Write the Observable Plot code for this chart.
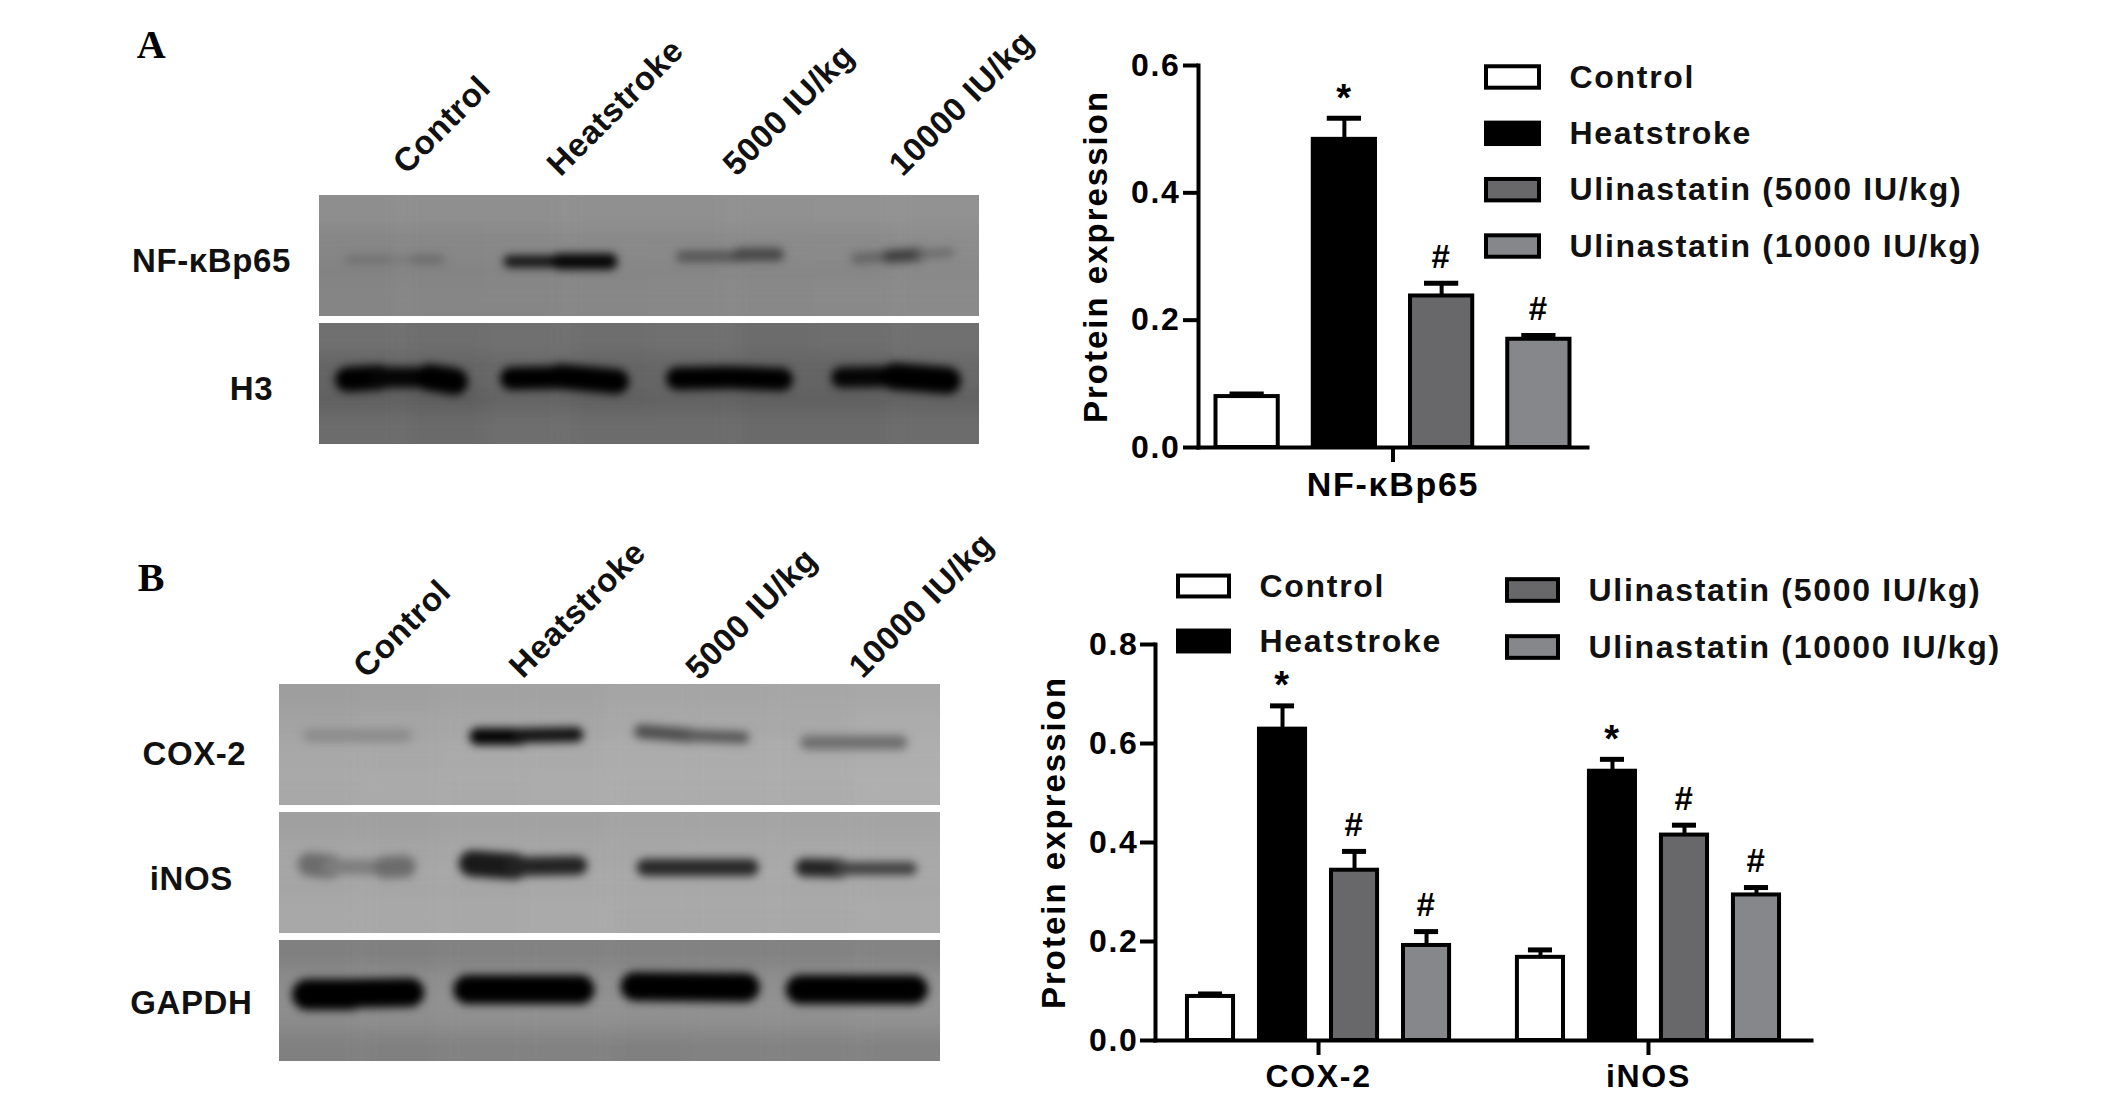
<!DOCTYPE html>
<html><head><meta charset="utf-8">
<script src="https://cdn.jsdelivr.net/npm/d3@7"></script>
<script src="https://cdn.jsdelivr.net/npm/@observablehq/plot@0.6"></script>
<style>
html,body{margin:0;padding:0;background:#fff;overflow:hidden}
#fig{position:relative;width:2126px;height:1103px;overflow:hidden}
#fig>div{position:absolute}
[aria-label="y-axis label"]{letter-spacing:2px;font-size:33px}
</style></head><body><div id="fig"></div>
<script>
// ---- bar chart values
const groups=["Control","Heatstroke","Ulinastatin (5000 IU/kg)","Ulinastatin (10000 IU/kg)"];
const groupFills=["#ffffff","#000000","#68686b","#85878a"];
const nfkbMean=[0.080,0.484,0.238,0.170];
const nfkbUpper=[0.084,0.517,0.258,0.176];
const nfkbSig=["","*","#","#"];
const coxMean=[0.089,0.629,0.344,0.192];
const coxUpper=[0.094,0.676,0.382,0.220];
const coxSig=["","*","#","#"];
const inosMean=[0.168,0.544,0.415,0.294];
const inosUpper=[0.183,0.568,0.435,0.309];
const inosSig=["","*","#","#"];
const yTicksA=[0,0.2,0.4,0.6];
const yTicksB=[0,0.2,0.4,0.6,0.8];
// ---- blot labels
const laneNames=["Control","Heatstroke","5000 IU/kg","10000 IU/kg"];
const laneXA=[87,241,417,583], laneYA=[-20,-18,-18,-18];
const laneXB=[87,243,419,582], laneYB=[-5,-5,-3,-5];
// ---- blot background greys, rows of columns
const greyNfkb=[[142,143,143,144,144,145,146,146],[134,135,136,137,137,138,138,140],[130,131,132,133,134,134,135,136],[133,134,134,135,136,136,137,138]];
const greyH3=[[112,110,112,110,112,108,110,112],[100,100,104,100,102,100,100,104],[96,94,100,96,98,96,96,98],[108,106,110,108,108,106,106,108]];
const greyCox=[[158,160,162,162,165,165,166,168],[163,165,166,166,168,168,168,172],[168,168,170,170,172,172,172,174],[168,170,170,172,172,172,172,175]];
const greyInos=[[160,160,162,162,164,164,164,164],[165,165,166,166,166,167,168,168],[165,166,166,168,168,168,168,168],[168,168,168,170,168,168,168,170]];
const greyGapdh=[[128,128,130,130,130,130,130,132],[140,142,142,142,142,142,142,145],[140,142,144,144,144,144,144,146],[128,128,130,130,128,130,130,130]];
// ---- blot band segments: x1,x2,y1,y2,thickness,grey
const bandsNfkb=[[30,70,64,64,8,112],[70,95,64,64,6,120],[95,120,64,64,9,108],[190,240,66,66,12,20],[240,290,66,66,16,5],[362,420,61,61,11,85],[420,458,59,59,13,70],[537,570,63,61,11,100],[570,600,61,59,13,62],[600,630,59,57,8,105]];
const bandsH3=[[28,60,56,54,25,0],[60,110,54,54,21,5],[110,135,54,58,27,0],[192,240,55,54,23,0],[240,297,53,58,25,0],[358,410,55,54,23,0],[410,462,54,56,23,0],[522,575,54,53,21,5],[575,628,53,57,27,0]];
const bandsCox=[[30,126,51,51,13,140],[198,240,52,52,17,5],[240,296,51,50,15,20],[361,410,47,51,14,78],[410,463,51,53,12,88],[527,620,58,58,14,110]];
const bandsInos=[[30,50,52,54,24,108],[50,105,54,55,15,125],[105,125,55,54,22,108],[192,235,51,54,26,25],[235,298,54,53,19,35],[365,470,55,55,17,40],[524,560,55,56,18,35],[560,630,56,56,13,65]];
const bandsGapdh=[[28,70,54,54,31,0],[70,130,53,52,29,0],[188,300,49,49,29,0],[355,465,46,47,29,0],[520,633,49,49,29,0]];

const FONT="Liberation Sans";
const fig=document.getElementById("fig");
function place(node,left,top){const d=document.createElement("div");d.style.left=left+"px";d.style.top=top+"px";d.appendChild(node);fig.appendChild(d);}
const base=(ls)=>({background:"transparent",overflow:"visible",fontFamily:FONT,letterSpacing:ls,maxWidth:"none"});
const g=v=>`rgb(${v},${v},${v})`;

function blotPanel({rows,width,height,margin,labelsX,labelsY,letter,letterX,letterY,gap,W,H}){
  const names=rows.map(r=>r.name);
  const cells=rows.flatMap(r=>r.grey.flatMap((line,i)=>line.map((v,j)=>{
    const cw=W/line.length,ch=H/r.grey.length;
    return {row:r.name,x1:j===0?-60:j*cw,x2:j===line.length-1?W+60:(j+1)*cw,y1:i===0?-60:i*ch,y2:i===r.grey.length-1?H+60:(i+1)*ch,fill:g(v)};
  })));
  const segs=rows.flatMap(r=>r.bands.map(([x1,x2,y1,y2,w,v])=>({row:r.name,x1,x2,y1,y2,w,stroke:g(v)})));
  const first=names[0];
  return Plot.plot({width,height,...margin,style:base("0.6px"),
    x:{domain:[0,W],axis:null},y:{domain:[H,0],axis:null},
    fy:{domain:names,padding:gap,axis:null,round:false},
    marks:[
      Plot.rect(cells,{x1:"x1",x2:"x2",y1:"y1",y2:"y2",fy:"row",fill:{value:"fill",scale:null},clip:"frame",imageFilter:"blur(9px)"}),
      Plot.link(segs,{x1:"x1",x2:"x2",y1:"y1",y2:"y2",fy:"row",stroke:{value:"stroke",scale:null},strokeWidth:"w",strokeLinecap:"round",clip:"frame",imageFilter:"blur(4.5px)"}),
      Plot.text(rows,{x:r=>r.labelX,y:r=>r.labelY,fy:"name",text:"name",fontSize:33,fontWeight:"bold",fill:"#111"}),
      Plot.text(laneNames.map((t,i)=>({t,x:labelsX[i],y:labelsY[i],row:first})),{x:"x",y:"y",fy:"row",text:"t",rotate:-45,textAnchor:"start",lineAnchor:"bottom",fontSize:33,fontWeight:"bold",fill:"#111"}),
      Plot.text([{t:letter,row:first}],{x:()=>letterX,y:()=>letterY,fy:"row",text:"t",fontFamily:"Liberation Serif",fontSize:40,fontWeight:"bold",fill:"#000"})
    ]});
}

place(blotPanel({width:1040,height:470,margin:{marginLeft:319,marginRight:61,marginTop:195,marginBottom:26},W:660,H:121,gap:0.055,
  rows:[{name:"NF-κBp65",grey:greyNfkb,bands:bandsNfkb,labelX:-108,labelY:66},{name:"H3",grey:greyH3,bands:bandsH3,labelX:-68,labelY:66}],
  labelsX:laneXA,labelsY:laneYA,letter:"A",letterX:-168,letterY:-150}),0,0);
place(blotPanel({width:1000,height:600,margin:{marginLeft:279,marginRight:60,marginTop:204,marginBottom:19},W:660,H:121,gap:0.054,
  rows:[{name:"COX-2",grey:greyCox,bands:bandsCox,labelX:-85,labelY:70},{name:"iNOS",grey:greyInos,bands:bandsInos,labelX:-88,labelY:67},{name:"GAPDH",grey:greyGapdh,bands:bandsGapdh,labelX:-88,labelY:63}],
  labelsX:laneXB,labelsY:laneYB,letter:"B",letterX:-128,letterY:-106}),0,480);

function rowsFor(panel,mean,upper,sig){return groups.map((group,i)=>({panel,group,mean:mean[i],upper:upper[i],sig:sig[i]}));}

function barChart({data,facets,yMax,ticks,width,height,margin,fxOpts,capInset,labelOffset,left,top,fxFont,tickPadding}){
  const common={fx:"panel",x:"group"};
  place(Plot.plot({width,height,...margin,style:base("1.7px"),
    fx:{domain:facets,...fxOpts,axis:null,round:false},
    x:{domain:groups,paddingInner:0.36,paddingOuter:0.18,axis:null,round:false},
    y:{domain:[0,yMax],axis:null},
    marks:[
      Plot.ruleX(data,{...common,y1:"mean",y2:"upper",stroke:"#000",strokeWidth:4}),
      Plot.tickY(data,{...common,y:"upper",stroke:"#000",strokeWidth:5,insetLeft:capInset,insetRight:capInset}),
      Plot.barY(data,{...common,y:"mean",fill:{value:d=>groupFills[groups.indexOf(d.group)],scale:null},stroke:"#000",strokeWidth:4}),
      Plot.text(data.filter(d=>d.sig==="#"),{...common,y:"upper",text:"sig",dy:-26,fontSize:33,fontWeight:"bold",fill:"#000"}),
      Plot.text(data.filter(d=>d.sig==="*"),{...common,y:"upper",text:"sig",dy:-20,fontSize:38,fontWeight:"bold",fill:"#000"}),
      Plot.axisFx({anchor:"bottom",tickSize:15,tickPadding:9,strokeWidth:4,label:null,fontSize:fxFont,fontWeight:"bold",fill:"#000",stroke:"#000"})
    ]}),left,top);
  // the y axis and the two axis lines span the whole frame, not one facet
  place(Plot.plot({width,height,...margin,style:base("1.7px"),
    y:{domain:[0,yMax],axis:null},
    marks:[
      Plot.frame({anchor:"left",stroke:"#000",strokeWidth:4}),
      Plot.frame({anchor:"bottom",stroke:"#000",strokeWidth:4}),
      Plot.axisY({anchor:"left",ticks,tickSize:15,tickPadding,strokeWidth:4,tickFormat:".1f",fontSize:32,fontWeight:"bold",fill:"#000",stroke:"#000",
        label:"Protein expression",labelAnchor:"center",labelArrow:"none",labelOffset})
    ]}),left,top);
}

barChart({data:rowsFor("NF-κBp65",nfkbMean,nfkbUpper,nfkbSig),facets:["NF-κBp65"],yMax:0.6,ticks:yTicksA,width:580,height:480,left:1050,top:20,fxFont:34,tickPadding:3,
  margin:{marginLeft:148,marginRight:43,marginTop:45,marginBottom:53},fxOpts:{range:[148,537],padding:0},capInset:14,labelOffset:115});
barChart({data:[...rowsFor("COX-2",coxMean,coxUpper,coxSig),...rowsFor("iNOS",inosMean,inosUpper,inosSig)],facets:["COX-2","iNOS"],yMax:0.8,ticks:yTicksB,width:830,height:530,left:1000,top:560,fxFont:32,tickPadding:2,
  margin:{marginLeft:155,marginRight:19,marginTop:84,marginBottom:50},fxOpts:{range:[174,792],paddingInner:0.127,paddingOuter:0},capInset:11,labelOffset:114});

function legend({names,width,height,range,x1,x2,tx}){
  return Plot.plot({width,height,margin:0,style:base("1.7px"),
    x:{domain:[0,width],range:[0,width],axis:null},
    y:{type:"band",domain:names,range,paddingInner:0.62,paddingOuter:0.31,axis:null,round:false},
    marks:[
      Plot.barX(names,{x1:()=>x1,x2:()=>x2,y:d=>d,fill:{value:d=>groupFills[groups.indexOf(d)],scale:null},stroke:"#000",strokeWidth:4}),
      Plot.text(names,{x:()=>tx,y:d=>d,text:d=>d,textAnchor:"start",fontSize:32,fontWeight:"bold",fill:"#111"})
    ]});
}
place(legend({names:groups,width:640,height:245,range:[8.8,234.2],x1:16,x2:69,tx:99}),1470,40);
place(legend({names:groups.slice(0,2),width:340,height:130,range:[8.5,118.5],x1:18,x2:69,tx:99}),1160,550);
place(legend({names:groups.slice(2),width:620,height:130,range:[6.5,120.5],x1:17,x2:68,tx:98}),1490,555);
</script></body></html>
